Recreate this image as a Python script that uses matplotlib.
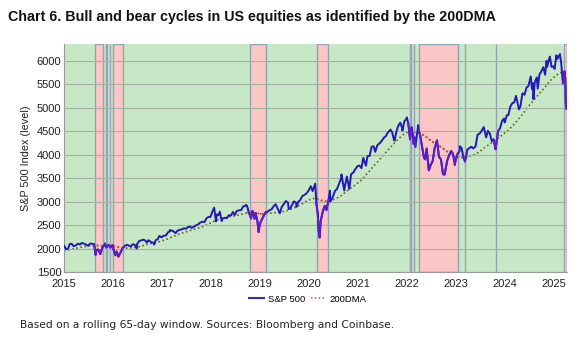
import numpy as np
import pandas as pd
import matplotlib
matplotlib.use("Agg")
import matplotlib.pyplot as plt
import matplotlib.dates as mdates
from matplotlib.lines import Line2D

# S&P 500 level, roughly twice a month plus the main swing highs/lows
spx_dates = [
    "2015-01-02", "2015-01-15", "2015-01-30", "2015-02-13", "2015-02-27", "2015-03-13", "2015-03-31",
    "2015-04-15", "2015-04-30", "2015-05-15", "2015-05-29", "2015-06-15", "2015-06-30", "2015-07-15",
    "2015-07-31", "2015-08-14", "2015-08-25", "2015-08-31", "2015-09-15", "2015-09-29", "2015-10-15",
    "2015-10-30", "2015-11-03", "2015-11-13", "2015-11-30", "2015-12-14", "2015-12-29", "2015-12-31",
    "2016-01-15", "2016-01-20", "2016-01-29", "2016-02-11", "2016-02-29", "2016-03-15", "2016-03-31",
    "2016-04-15", "2016-04-29", "2016-05-13", "2016-05-31", "2016-06-15", "2016-06-27", "2016-06-30",
    "2016-07-15", "2016-07-29", "2016-08-15", "2016-08-31", "2016-09-09", "2016-09-22", "2016-09-30",
    "2016-10-14", "2016-10-31", "2016-11-04", "2016-11-15", "2016-11-30", "2016-12-13", "2016-12-30",
    "2017-01-13", "2017-01-31", "2017-02-15", "2017-02-28", "2017-03-01", "2017-03-15", "2017-03-31",
    "2017-04-13", "2017-04-28", "2017-05-15", "2017-05-31", "2017-06-15", "2017-06-30", "2017-07-14",
    "2017-07-31", "2017-08-11", "2017-08-31", "2017-09-15", "2017-09-29", "2017-10-13", "2017-10-31",
    "2017-11-15", "2017-11-30", "2017-12-15", "2017-12-29",
    "2018-01-12", "2018-01-26", "2018-02-08", "2018-02-15", "2018-02-28", "2018-03-09", "2018-03-23",
    "2018-03-30", "2018-04-13", "2018-04-30", "2018-05-15", "2018-05-31", "2018-06-15", "2018-06-29",
    "2018-07-13", "2018-07-31", "2018-08-15", "2018-08-31", "2018-09-14", "2018-09-20", "2018-09-28",
    "2018-10-10", "2018-10-29", "2018-10-31", "2018-11-08", "2018-11-23", "2018-11-30", "2018-12-14",
    "2018-12-24", "2018-12-31",
    "2019-01-15", "2019-01-31", "2019-02-15", "2019-02-28", "2019-03-15", "2019-03-29", "2019-04-15",
    "2019-04-30", "2019-05-15", "2019-05-31", "2019-06-14", "2019-06-28", "2019-07-15", "2019-07-31",
    "2019-08-05", "2019-08-15", "2019-08-30", "2019-09-13", "2019-09-30", "2019-10-02", "2019-10-15",
    "2019-10-31", "2019-11-15", "2019-11-29", "2019-12-13", "2019-12-31",
    "2020-01-17", "2020-01-31", "2020-02-19", "2020-02-28", "2020-03-09", "2020-03-16", "2020-03-23",
    "2020-03-31", "2020-04-15", "2020-04-30", "2020-05-13", "2020-05-29", "2020-06-08", "2020-06-11",
    "2020-06-30", "2020-07-15", "2020-07-31", "2020-08-14", "2020-08-31", "2020-09-02", "2020-09-23",
    "2020-09-30", "2020-10-12", "2020-10-30", "2020-11-13", "2020-11-30", "2020-12-15", "2020-12-31",
    "2021-01-15", "2021-01-29", "2021-02-12", "2021-02-26", "2021-03-04", "2021-03-15", "2021-03-31",
    "2021-04-15", "2021-04-30", "2021-05-12", "2021-05-28", "2021-06-15", "2021-06-30", "2021-07-15",
    "2021-07-30", "2021-08-13", "2021-08-31", "2021-09-02", "2021-09-15", "2021-09-30", "2021-10-04",
    "2021-10-15", "2021-10-29", "2021-11-15", "2021-11-30", "2021-12-01", "2021-12-15", "2021-12-31",
    "2022-01-03", "2022-01-14", "2022-01-27", "2022-01-31", "2022-02-09", "2022-02-23", "2022-02-28",
    "2022-03-08", "2022-03-29", "2022-03-31", "2022-04-14", "2022-04-29", "2022-05-12", "2022-05-20",
    "2022-05-31", "2022-06-16", "2022-06-30", "2022-07-15", "2022-07-29", "2022-08-16", "2022-08-31",
    "2022-09-15", "2022-09-30", "2022-10-12", "2022-10-31", "2022-11-15", "2022-11-30", "2022-12-13",
    "2022-12-28", "2022-12-30",
    "2023-01-13", "2023-01-31", "2023-02-02", "2023-02-15", "2023-02-28", "2023-03-13", "2023-03-31",
    "2023-04-14", "2023-04-28", "2023-05-15", "2023-05-31", "2023-06-15", "2023-06-30", "2023-07-14",
    "2023-07-31", "2023-08-18", "2023-08-31", "2023-09-15", "2023-09-29", "2023-10-13", "2023-10-27",
    "2023-10-31", "2023-11-15", "2023-11-30", "2023-12-15", "2023-12-29",
    "2024-01-04", "2024-01-19", "2024-01-31", "2024-02-15", "2024-02-29", "2024-03-15", "2024-03-28",
    "2024-04-19", "2024-04-30", "2024-05-15", "2024-05-31", "2024-06-14", "2024-06-28", "2024-07-16",
    "2024-07-25", "2024-07-31", "2024-08-05", "2024-08-15", "2024-08-30", "2024-09-06", "2024-09-19",
    "2024-09-30", "2024-10-18", "2024-10-31", "2024-11-11", "2024-11-15", "2024-11-29", "2024-12-06",
    "2024-12-18", "2024-12-31",
    "2025-01-10", "2025-01-23", "2025-01-31", "2025-02-19", "2025-02-28", "2025-03-13", "2025-03-25",
    "2025-03-31", "2025-04-04", "2025-04-08",
]
spx = [
    2058, 1992, 1995, 2097, 2105, 2053, 2068,
    2107, 2086, 2123, 2107, 2084, 2063, 2108,
    2104, 2092, 1868, 1972, 1979, 1884, 2023,
    2079, 2109, 2023, 2080, 2021, 2078, 2044,
    1880, 1859, 1940, 1829, 1932, 2015, 2060,
    2081, 2065, 2047, 2097, 2072, 2001, 2099,
    2162, 2174, 2190, 2171, 2128, 2177, 2168,
    2133, 2126, 2085, 2180, 2199, 2271, 2239,
    2275, 2279, 2349, 2364, 2396, 2385, 2363,
    2329, 2384, 2402, 2412, 2433, 2423, 2459,
    2470, 2441, 2472, 2500, 2519, 2553, 2575,
    2565, 2648, 2676, 2674,
    2786, 2873, 2581, 2731, 2714, 2786, 2588,
    2641, 2656, 2648, 2711, 2705, 2780, 2718,
    2801, 2816, 2818, 2902, 2905, 2931, 2914,
    2785, 2641, 2712, 2806, 2633, 2760, 2600,
    2351, 2507,
    2611, 2704, 2776, 2784, 2822, 2834, 2905,
    2946, 2851, 2752, 2887, 2942, 3014, 2980,
    2844, 2848, 2926, 3007, 2977, 2888, 2996,
    3038, 3120, 3141, 3169, 3231,
    3330, 3226, 3386, 2954, 2747, 2386, 2237,
    2585, 2783, 2912, 2820, 3044, 3232, 3002,
    3100, 3227, 3271, 3373, 3500, 3580, 3237,
    3363, 3535, 3270, 3585, 3622, 3695, 3756,
    3768, 3714, 3934, 3811, 3768, 3969, 3973,
    4170, 4181, 4063, 4204, 4246, 4298, 4361,
    4395, 4468, 4523, 4537, 4481, 4308, 4300,
    4471, 4605, 4683, 4567, 4513, 4709, 4766,
    4797, 4663, 4326, 4516, 4587, 4226, 4374,
    4170, 4632, 4530, 4393, 4132, 3930, 3901,
    4132, 3667, 3785, 3863, 4130, 4305, 3955,
    3901, 3586, 3577, 3872, 3992, 4080, 4019,
    3783, 3840,
    3999, 4077, 4180, 4148, 3970, 3855, 4109,
    4138, 4169, 4136, 4180, 4426, 4450, 4505,
    4589, 4370, 4508, 4450, 4288, 4327, 4117,
    4194, 4502, 4568, 4719, 4770,
    4688, 4840, 4846, 5030, 5096, 5117, 5254,
    4967, 5036, 5308, 5278, 5431, 5460, 5667,
    5399, 5522, 5186, 5543, 5648, 5408, 5713,
    5762, 5864, 5705, 6001, 5870, 6032, 6090,
    5872, 5882,
    5827, 6119, 6041, 6144, 5955, 5522, 5777,
    5612, 5074, 4982,
]

# 200-day moving average, month-start readings
dma_dates = pd.date_range("2015-01-01", "2025-04-01", freq="MS")
dma = [
    1955, 1975, 1990, 2005, 2025, 2040, 2055, 2068, 2068, 2062, 2060, 2058,
    2050, 2035, 2020, 2012, 2012, 2020, 2032, 2055, 2080, 2105, 2122, 2140,
    2165, 2195, 2230, 2265, 2300, 2330, 2360, 2388, 2412, 2438, 2468, 2505,
    2550, 2595, 2625, 2648, 2668, 2688, 2700, 2718, 2742, 2765, 2772, 2755,
    2742, 2742, 2748, 2758, 2768, 2775, 2792, 2818, 2852, 2888, 2935, 2985,
    3035, 3068, 3060, 3030, 3005, 3008, 3040, 3080, 3130, 3200, 3270, 3330,
    3395, 3470, 3560, 3660, 3760, 3855, 3955, 4055, 4155, 4245, 4335, 4415,
    4470, 4495, 4490, 4470, 4430, 4370, 4300, 4240, 4190, 4130, 4065, 4005,
    3965, 3945, 3940, 3955, 3985, 4010, 4070, 4140, 4200, 4260, 4320, 4390,
    4455, 4525, 4610, 4710, 4810, 4920, 5040, 5140, 5245, 5345, 5445, 5555,
    5640, 5710, 5755, 5765,
]

# price below its 200DMA
bear_start = ["2015-08-18", "2015-11-12", "2015-12-10", "2016-01-01", "2018-10-18", "2020-03-05",
              "2022-01-26", "2022-02-24", "2022-04-05", "2023-03-11", "2023-10-27", "2025-03-22"]
bear_end = ["2015-10-21", "2015-11-16", "2015-12-14", "2016-03-16", "2019-02-14", "2020-05-27",
            "2022-01-31", "2022-03-01", "2023-01-22", "2023-03-15", "2023-10-31", "2025-04-12"]

years = list(range(2015, 2026))

green = "#c6e8c6"
pink = "#fbc6c6"
edge = "#98a2b6"
spx_bull = "#2219b8"
spx_bear = "#5a1ec8"
dma_bull = "#6e5e1c"
dma_bear = "#d8482e"

plt.rcParams["font.family"] = ["Liberation Sans Narrow", "Liberation Sans", "DejaVu Sans"]

fig = plt.figure(figsize=(5.84, 3.38), dpi=100)
ax = fig.add_axes([0.1096, 0.195, 0.8607, 0.675])

x0 = pd.Timestamp("2015-01-01")
x1 = pd.Timestamp("2025-04-10")
ax.set_facecolor(green)
for s, e in zip(bear_start, bear_end):
    ax.axvspan(pd.Timestamp(s), min(pd.Timestamp(e), x1), facecolor=pink,
               edgecolor=edge, linewidth=1.0, zorder=0.5)

d = pd.to_datetime(spx_dates)
p = np.array(spx, dtype=float)
in_bear = np.zeros(len(d), dtype=bool)
for s, e in zip(bear_start, bear_end):
    in_bear |= (d >= pd.Timestamp(s)) & (d <= pd.Timestamp(e))

dm = np.array(dma, dtype=float)
dm_bear = np.zeros(len(dma_dates), dtype=bool)
for s, e in zip(bear_start, bear_end):
    dm_bear |= (dma_dates >= pd.Timestamp(s) - pd.Timedelta(days=20)) & (dma_dates <= pd.Timestamp(e) + pd.Timedelta(days=20))

ax.plot(dma_dates, dm, color=dma_bull, lw=1.2, ls=(0, (1, 1.5)), zorder=2)
ax.plot(dma_dates, np.where(dm_bear, dm, np.nan), color=dma_bear, lw=1.2, ls=(0, (1, 1.5)), zorder=2.1)

# extend bear mask one point each side so the purple pieces join up
bear_line = in_bear.copy()
bear_line[1:] |= in_bear[:-1]
bear_line[:-1] |= in_bear[1:]
ax.plot(d, p, color=spx_bull, lw=1.4, zorder=3)
ax.plot(d, np.where(bear_line, p, np.nan), color=spx_bear, lw=1.4, zorder=3.1)

ax.set_xlim(x0, x1)
ax.set_ylim(1500, 6360)
ax.set_yticks(range(1500, 6001, 500))
ax.set_xticks([pd.Timestamp(f"{y}-01-01") for y in years])
ax.xaxis.set_major_formatter(mdates.DateFormatter("%Y"))
ax.tick_params(axis="both", length=0, labelsize=8, colors="#222222", pad=2)
ax.tick_params(axis="x", pad=5)
ax.grid(axis="y", color="#a4b2a4", lw=0.8, zorder=1)
ax.set_axisbelow(False)
for side in ("top", "right"):
    ax.spines[side].set_visible(False)
for side in ("left", "bottom"):
    ax.spines[side].set_color("#9a9a9a")
    ax.spines[side].set_linewidth(0.8)

ax.set_ylabel("S&P 500 Index (level)", fontsize=7.8, labelpad=4, color="#222222")

handles = [Line2D([], [], color="#3b2fb0", lw=1.5),
           Line2D([], [], color="#e0506a", lw=1.1, ls=(0, (1, 1.5)))]
fig.legend(handles, ["S&P 500", "200DMA"], loc="center", bbox_to_anchor=(0.527, 0.115),
           ncol=2, frameon=False, fontsize=6.8, handlelength=1.6, columnspacing=0.6,
           handletextpad=0.4)

fig.text(0.014, 0.95, "Chart 6. Bull and bear cycles in US equities as identified by the 200DMA",
         fontsize=10.3, fontweight="bold", family=["Liberation Sans", "DejaVu Sans"],
         va="center", ha="left", color="#111111")
fig.text(0.034, 0.038, "Based on a rolling 65-day window. Sources: Bloomberg and Coinbase.",
         fontsize=7.7, family="DejaVu Sans", va="center", ha="left", color="#222222")

fig.savefig("out.png", dpi=100)
